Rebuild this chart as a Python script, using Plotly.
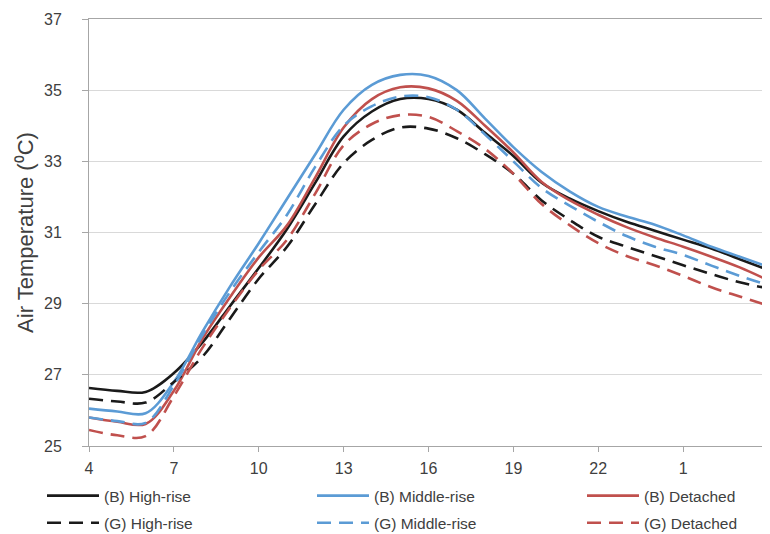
import plotly.graph_objects as go

hours = list(range(25))  # 4:00 .. 4:00 next day
tick_pos = [0, 3, 6, 9, 12, 15, 18, 21, 24]
tick_labels = ["4", "7", "10", "13", "16", "19", "22", "1", "4"]

b_high = [26.63, 26.55, 26.52, 27.05, 27.9, 28.95, 30.0, 31.1, 32.4, 33.7, 34.4, 34.75, 34.75,
          34.45, 33.8, 33.15, 32.4, 31.95, 31.6, 31.3, 31.05, 30.8, 30.55, 30.25, 29.95]
b_mid = [26.05, 25.97, 25.92, 26.8, 28.2, 29.5, 30.7, 31.95, 33.2, 34.45, 35.15, 35.43, 35.4,
         35.0, 34.2, 33.4, 32.7, 32.15, 31.72, 31.45, 31.22, 30.92, 30.6, 30.32, 30.04]
b_det = [25.8, 25.68, 25.62, 26.55, 28.0, 29.2, 30.3, 31.2, 32.55, 33.95, 34.75, 35.08, 35.05,
         34.7, 34.0, 33.25, 32.42, 31.9, 31.5, 31.15, 30.86, 30.6, 30.32, 30.02, 29.66]
g_high = [26.33, 26.25, 26.22, 26.8, 27.5, 28.6, 29.7, 30.6, 31.8, 32.95, 33.6, 33.95, 33.92,
          33.65, 33.2, 32.65, 31.9, 31.35, 30.88, 30.6, 30.34, 30.08, 29.83, 29.6, 29.43]
g_mid = [25.8, 25.7, 25.65, 26.7, 28.1, 29.35, 30.45, 31.5, 32.85, 34.0, 34.55, 34.82, 34.8,
         34.45, 33.75, 33.0, 32.25, 31.75, 31.3, 30.9, 30.6, 30.37, 30.07, 29.78, 29.52]
g_det = [25.45, 25.3, 25.28, 26.4, 27.75, 28.9, 29.95, 30.8, 32.1, 33.45, 34.05, 34.3, 34.25,
         33.85, 33.35, 32.65, 31.8, 31.2, 30.7, 30.34, 30.08, 29.78, 29.46, 29.2, 28.95]

names = ["(B) High-rise", "(B) Middle-rise", "(B) Detached",
         "(G) High-rise", "(G) Middle-rise", "(G) Detached"]
series = [b_high, b_mid, b_det, g_high, g_mid, g_det]
colors = ["#1a1a1a", "#5b9bd5", "#c0504d", "#1a1a1a", "#5b9bd5", "#c0504d"]
dashes = ["solid", "solid", "solid", "14px,8px", "14px,8px", "14px,8px"]
legend_ids = ["legend", "legend2", "legend3", "legend", "legend2", "legend3"]

FONT = "Liberation Sans, Arial, sans-serif"
TXT = "#404040"

# The page body adds an 8px offset, so the figure is sized to fill the rest of the window.
W, H = 762, 526
L, T, R, B = 81, 11, 2, 88
PW = W - L - R

fig = go.Figure()
for i, (name, ys, c, d, lg) in enumerate(zip(names, series, colors, dashes, legend_ids)):
    fig.add_trace(go.Scatter(
        x=hours, y=ys, name=name, mode="lines", legend=lg, legendgroup="g%d" % i,
        line=dict(color=c, width=2.6, dash=d, shape="spline", smoothing=1.0),
    ))

leg_common = dict(
    orientation="v", xanchor="left", yref="container", y=1 - 471 / H, yanchor="top",
    traceorder="grouped", tracegroupgap=4, itemwidth=52,
    font=dict(family=FONT, size=15.5, color=TXT), bgcolor="rgba(0,0,0,0)",
)
fig.update_layout(
    width=W, height=H,
    margin=dict(l=L, r=R, t=T, b=B, autoexpand=False),
    paper_bgcolor="white", plot_bgcolor="white",
    font=dict(family=FONT, size=16, color=TXT),
    showlegend=True,
    legend=dict(x=(34 - L) / PW, **leg_common),
    legend2=dict(x=(304 - L) / PW, **leg_common),
    legend3=dict(x=(574 - L) / PW, **leg_common),
)
fig.update_xaxes(
    range=[0, 24], tickmode="array", tickvals=tick_pos, ticktext=tick_labels,
    showgrid=False, showline=True, linecolor="#a6a6a6", linewidth=1, mirror=True,
    ticks="outside", ticklen=5, tickcolor="#a6a6a6", zeroline=False,
    ticklabelstandoff=3, ticklabeloverflow="allow",
    tickfont=dict(family=FONT, size=16, color=TXT),
)
fig.update_yaxes(
    range=[25, 37], dtick=2, tick0=25,
    showgrid=True, gridcolor="#d9d9d9", gridwidth=1,
    showline=True, linecolor="#a6a6a6", linewidth=1, mirror=True,
    ticks="outside", ticklen=6, tickcolor="#a6a6a6", zeroline=False,
    ticklabelstandoff=17,
    tickfont=dict(family=FONT, size=16, color=TXT),
    title=dict(text="Air Temperature (⁰C)", font=dict(family=FONT, size=22, color=TXT), standoff=4),
)

fig.write_html("out.html")
